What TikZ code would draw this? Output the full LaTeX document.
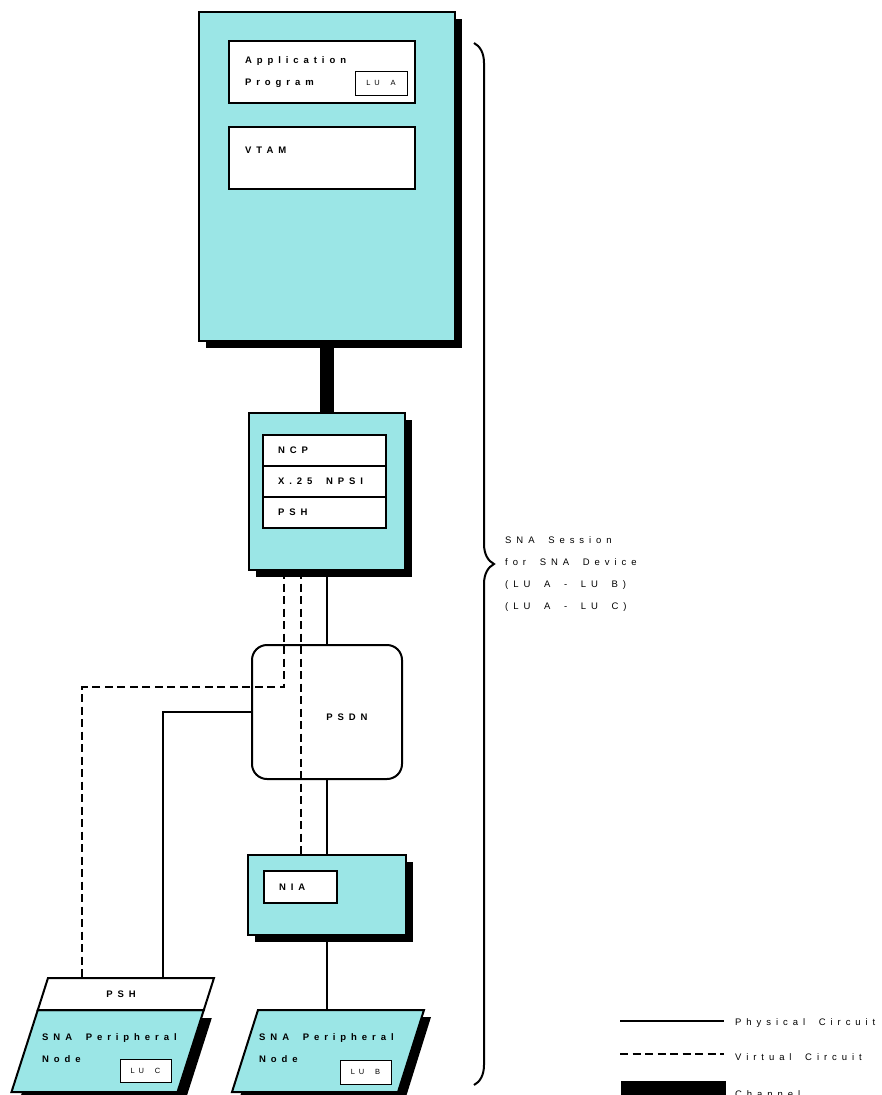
\documentclass[tikz,border=0pt]{standalone}
\usepackage{fontspec}
\setmainfont{Liberation Sans}
\newfontfamily\spacedfont[LetterSpace=52, WordSpace=1.8]{Liberation Sans}
\usetikzlibrary{positioning,shadows,decorations.pathreplacing}
\definecolor{snacyan}{RGB}{155,230,230}
\tikzset{
  snabox/.style={rectangle, fill=snacyan, draw, line width=2pt, inner sep=0pt,
    drop shadow={shadow xshift=7pt, shadow yshift=-7pt, fill=black, opacity=1}},
  panel/.style={rectangle, fill=white, draw, line width=2pt, inner sep=0pt},
  stackrow/.style={panel, lbl, minimum width=123, minimum height=31},
  lubox/.style={rectangle, fill=white, draw, line width=1pt, inner sep=0pt,
    font=\spacedfont\fontsize{7.5}{9}\selectfont},
  lbl/.style={inner sep=0pt, font=\spacedfont\bfseries\fontsize{9.5}{22}\selectfont},
  txt/.style={inner sep=0pt, font=\spacedfont\fontsize{9.5}{22}\selectfont},
  physical/.style={line width=2pt},
  virtual/.style={line width=2pt, dash pattern=on 8pt off 4.5pt},
  channel/.style={line width=14pt}
}
\begin{document}
\begin{tikzpicture}[x=1pt, y=-1pt]
  \useasboundingbox (0,0) rectangle (881,1095);
  \clip (0,0) rectangle (881,1095);

  % host
  \node[snabox, minimum width=256, minimum height=329] (host) at (327,176.5) {};
  \node[panel, lbl, minimum width=186, minimum height=62, text width=154, align=left] (app) at (322,72) {Application\\Program};
  \node[lubox, minimum width=52, minimum height=24] (lua) at (381,83) {LU A};
  \node[panel, minimum width=186, minimum height=62] (vtam) at (322,158) {};
  \node[lbl, anchor=west] (vtamtext) at (245,150) {VTAM};

  % front end processor
  \node[snabox, minimum width=156, minimum height=157] (ncp) at (327,491.5) {};
  \node[stackrow] (ncprow) at (324.5,450.5) {\makebox[93pt][l]{NCP}};
  \node[stackrow, below=-2pt of ncprow] (npsirow) {\makebox[93pt][l]{X.25 NPSI}};
  \node[stackrow, below=-2pt of npsirow] (pshrow) {\makebox[93pt][l]{PSH}};

  % network
  \node[panel, rounded corners=15pt, minimum width=150, minimum height=134] (psdn) at (327,712) {};
  \node[lbl] (psdntext) at (347,717) {PSDN};

  \node[snabox, minimum width=158, minimum height=80] (nia) at (327,895) {};
  \node[panel, lbl, minimum width=73, minimum height=32] (niabox) at (300.5,887) {\makebox[43pt][l]{NIA}};

  % peripheral node with PSH
  \fill (45.8,1018) -- (211.8,1018) -- (185.5,1100) -- (19.5,1100) -- cycle;
  \filldraw[fill=snacyan, line width=2pt] (37.8,1010) -- (203.8,1010) -- (177.5,1092) -- (11.5,1092) -- cycle;
  \filldraw[fill=white, line width=2pt] (48,978) -- (214,978) -- (203.8,1010) -- (37.8,1010) -- cycle;
  \node[lbl] (pshtext) at (121,994) {PSH};
  \node[lbl, anchor=west, align=left] (nodectext) at (42,1048.5) {SNA Peripheral\\Node};
  \node[lubox, minimum width=51, minimum height=23] (luc) at (145.5,1070.5) {LU C};

  % peripheral node
  \fill (265,1017) -- (431,1017) -- (405,1100) -- (239,1100) -- cycle;
  \filldraw[fill=snacyan, line width=2pt] (258,1010) -- (424,1010) -- (398,1092) -- (232,1092) -- cycle;
  \node[lbl, anchor=west, align=left] (nodebtext) at (259,1048.5) {SNA Peripheral\\Node};
  \node[lubox, minimum width=51, minimum height=24] (lub) at (365.5,1072) {LU B};

  \coordinate (pshvirt) at (82,978);
  \coordinate (pshphys) at (163,978);
  \coordinate (nodeb) at (327,1010);

  % circuits
  \draw[channel] (host.south) -- (ncp.north);
  \draw[physical] (ncp.south) -- (psdn.north);
  \draw[physical] (psdn.south) -- (nia.north);
  \draw[physical] (nia.south) -- (nodeb);
  \draw[physical] (psdn.west) -| (pshphys);
  \draw[virtual] ([xshift=-43pt]ncp.south) -- ++(0,116) -| (pshvirt);
  \draw[virtual] ([xshift=-26pt]ncp.south) -- ([xshift=-26pt]nia.north);

  % session
  \draw[line width=2pt, decorate, decoration={brace, amplitude=20pt}] (474,43) -- (474,1085);
  \node[txt, anchor=west, align=left] (sessiontext) at (505,574) {SNA Session\\for SNA Device\\(LU A - LU B)\\(LU A - LU C)};

  % legend
  \coordinate (physa) at (620,1021);
  \coordinate (physb) at (724,1021);
  \coordinate (virta) at (620,1054);
  \coordinate (virtb) at (724,1054);
  \draw[physical] (physa) -- (physb);
  \node[txt, anchor=west] (phystext) at (735,1023) {Physical Circuit};
  \draw[virtual] (virta) -- (virtb);
  \node[txt, anchor=west] (virttext) at (735,1057) {Virtual Circuit};
  \fill (621,1081) rectangle (726,1100);
  \node[txt, anchor=base west] (chantext) at (735,1097) {Channel};
\end{tikzpicture}
\end{document}
